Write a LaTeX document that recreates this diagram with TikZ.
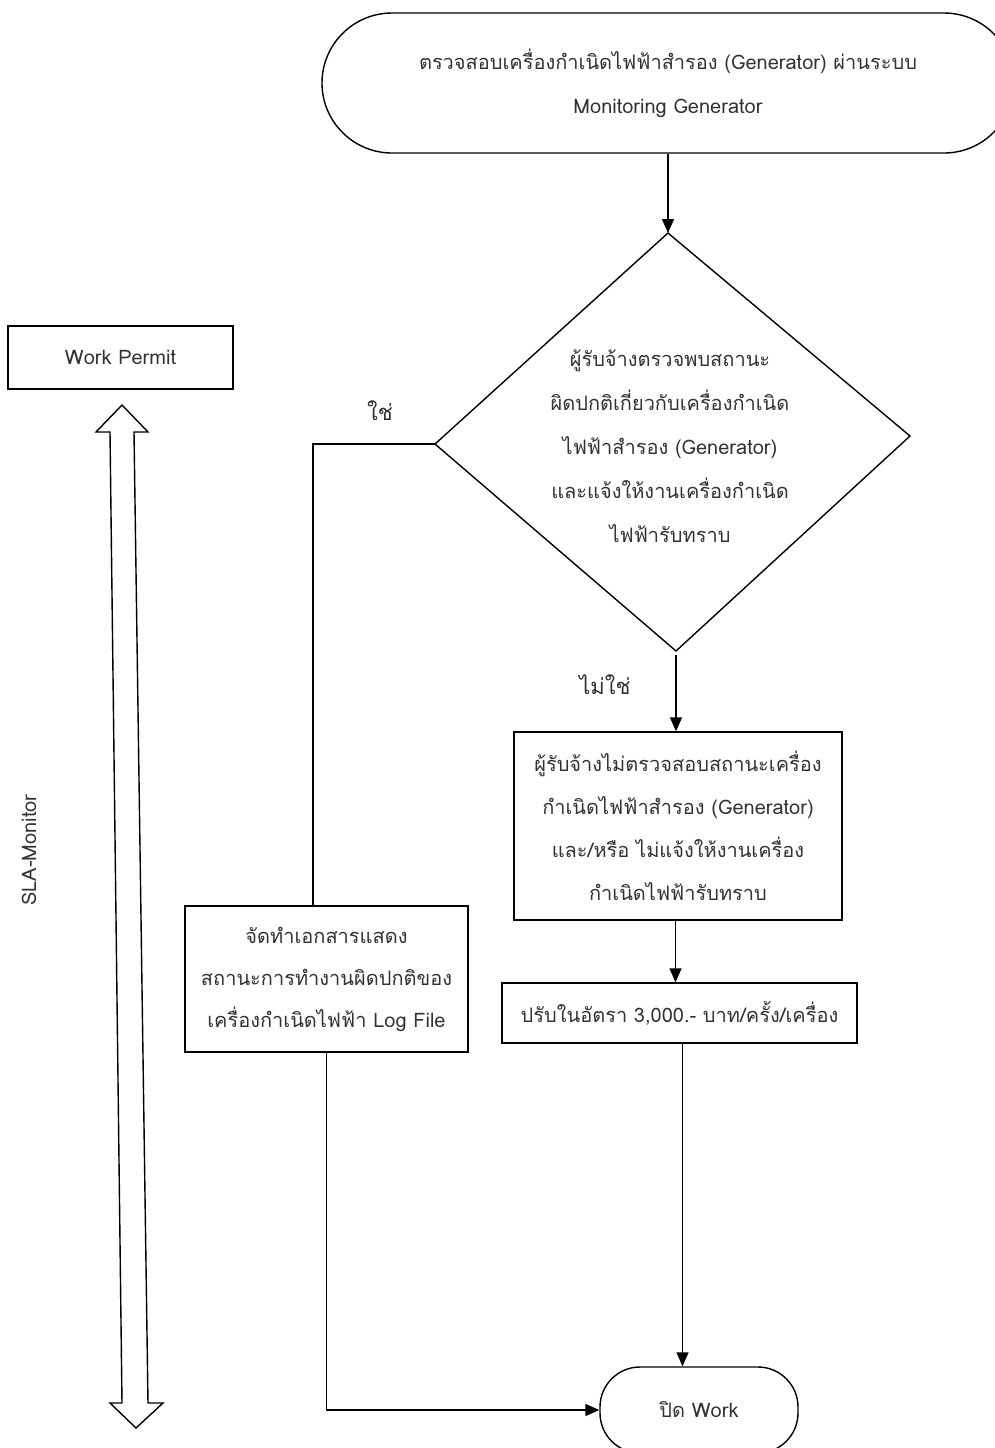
\documentclass[tikz,border=0pt]{standalone}
\usepackage{fontspec}
\newfontfamily\thaifont[Script=Thai]{Loma}
\usetikzlibrary{arrows.meta}
\begin{document}
\begin{tikzpicture}[x=0.5pt,y=-0.5pt,
  every node/.style={inner sep=0pt,align=center,text=black!80},
  txt/.style={font=\thaifont\fontsize{10}{22}\selectfont},
  lbl/.style={font=\thaifont\fontsize{11}{13}\selectfont},
  boxnode/.style={txt,draw,line width=0.7pt},
  flow/.style={line width=0.7pt,-{Triangle[length=7pt,width=6pt]}},
  plain/.style={line width=0.7pt}]
\useasboundingbox (0,0) rectangle (995,1448);

% start terminal
\node[boxnode,rounded corners=35pt,minimum width=346pt,minimum height=70pt] (start) at (668,83)
  {ตรวจสอบเครื่องกำเนิดไฟฟ้าสำรอง (Generator) ผ่านระบบ\\Monitoring Generator};

% decision
\coordinate (dtop) at (668,233);
\coordinate (dleft) at (435,444);
\coordinate (dright) at (910,436);
\coordinate (dbot) at (676,651);
\draw[plain] (dtop) -- (dright) -- (dbot) -- (dleft) -- cycle;
\node[txt] (dtext) at (670,446)
  {ผู้รับจ้างตรวจพบสถานะ\\ผิดปกติเกี่ยวกับเครื่องกำเนิด\\ไฟฟ้าสำรอง (Generator)\\และแจ้งให้งานเครื่องกำเนิด\\ไฟฟ้ารับทราบ};

% process boxes
\node[boxnode,minimum width=112.5pt,minimum height=31.5pt] (permit) at (120.5,357.5) {Work Permit};
\node[boxnode,minimum width=141.5pt,minimum height=73pt,font=\thaifont\fontsize{10}{21}\selectfont] (logbox) at (326.5,979)
  {จัดทำเอกสารแสดง\\สถานะการทำงานผิดปกติของ\\เครื่องกำเนิดไฟฟ้า Log File};
\node[boxnode,minimum width=164pt,minimum height=94pt,font=\thaifont\fontsize{10}{21.5}\selectfont] (nocheck) at (678,826)
  {ผู้รับจ้างไม่ตรวจสอบสถานะเครื่อง\\กำเนิดไฟฟ้าสำรอง (Generator)\\และ/หรือ ไม่แจ้งให้งานเครื่อง\\กำเนิดไฟฟ้ารับทราบ};
\node[boxnode,minimum width=177.5pt,minimum height=30pt] (fine) at (679.5,1013)
  {ปรับในอัตรา 3,000.- บาท/ครั้ง/เครื่อง};

% end terminal
\node[boxnode,rounded corners=20pt,minimum width=99pt,minimum height=43pt] (close) at (699,1410) {ปิด Work};

% branch labels
\node[lbl] (yes) at (380,411) {ใช่};
\node[lbl] (no) at (605,685) {ไม่ใช่};

% connectors
\draw[flow] (start.south -| dtop) -- (dtop);
\draw[plain] (dleft) -| (logbox.north -| 313,0);
\draw[flow] (dbot) ++(0,4) coordinate (dbotx) -- (dbotx |- nocheck.north);
\draw[flow] (nocheck.south -| fine.south) ++(-4,0) coordinate (nb) -- (nb |- fine.north);
\draw[flow] (fine.south) ++(3,0) coordinate (fb) -- (fb |- close.north);
\draw[flow] (logbox.south) |- (close.west);

% SLA-Monitor span
\draw[plain,fill=white] (122,405) -- (148,432) -- (134,432) -- (148,1403) -- (163,1403)
  -- (136,1428) -- (110,1403) -- (122,1403) -- (110,432) -- (96,432) -- cycle;
\node[txt,rotate=90] (sla) at (29,850) {SLA-Monitor};
\end{tikzpicture}
\end{document}
